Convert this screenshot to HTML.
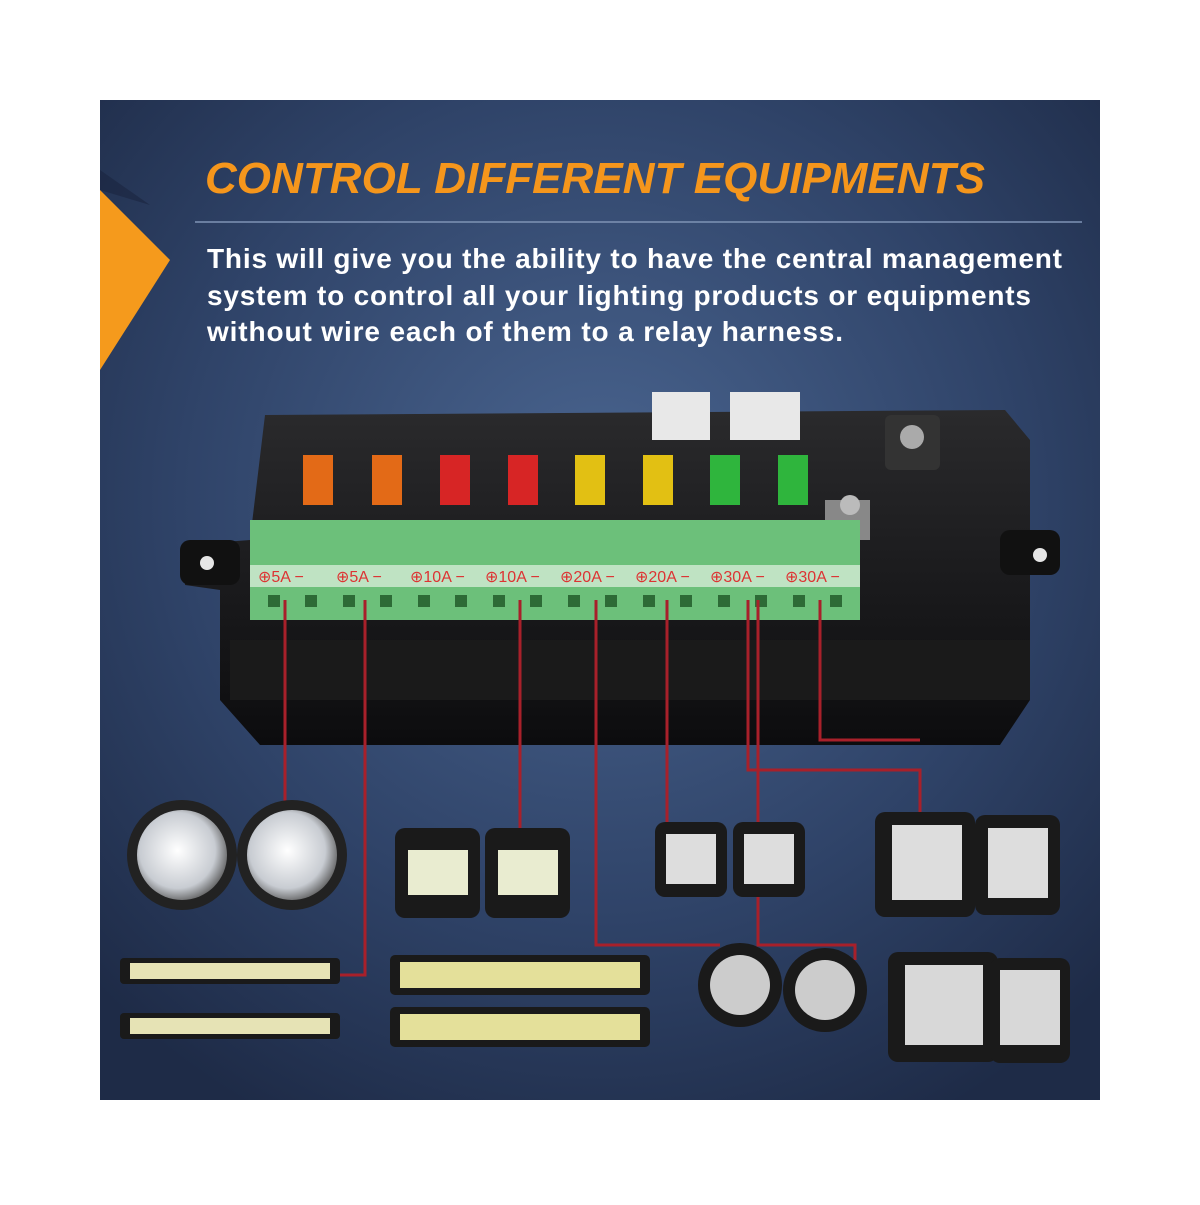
<!DOCTYPE html>
<html><head><meta charset="utf-8"><style>
body{margin:0;background:#fff;width:1200px;height:1200px;overflow:hidden}
</style></head><body>
<svg width="1200" height="1200" viewBox="0 0 1200 1200" xmlns="http://www.w3.org/2000/svg">
<defs>
<radialGradient id="bg" cx="0.5" cy="0.4" r="0.7">
<stop offset="0" stop-color="#4a6590"/><stop offset="0.6" stop-color="#2f4368"/><stop offset="1" stop-color="#1e2b47"/>
</radialGradient>
<linearGradient id="box" x1="0" y1="0" x2="0" y2="1"><stop offset="0" stop-color="#2a2a2c"/><stop offset="1" stop-color="#0c0c0e"/></linearGradient>
<radialGradient id="lamp" cx="0.45" cy="0.45" r="0.6"><stop offset="0" stop-color="#fff"/><stop offset="0.7" stop-color="#c8ccd2"/><stop offset="1" stop-color="#555"/></radialGradient>
</defs>
<rect x="100" y="100" width="1000" height="1000" fill="url(#bg)"/>
<polygon points="100,190 170,260 100,370" fill="#f59a1c"/>
<polygon points="100,170 150,205 100,190" fill="#1a2440" opacity="0.6"/>
<text x="205" y="193" font-family="Liberation Sans, sans-serif" font-weight="bold" font-style="italic" font-size="44" fill="#f5961c" textLength="780" lengthAdjust="spacing">CONTROL DIFFERENT EQUIPMENTS</text>
<line x1="195" y1="222" x2="1082" y2="222" stroke="#7f93b5" stroke-width="1.5"/>
<g font-family="Liberation Sans, sans-serif" font-size="28" font-weight="bold" fill="#fff">
<text x="207" y="268" textLength="855">This will give you the ability to have the central management</text>
<text x="207" y="305" textLength="824">system to control all your lighting products or equipments</text>
<text x="207" y="341" textLength="636">without wire each of them to a relay harness.</text>
</g>
<path d="M265 415 L1005 410 L1030 440 L1030 700 L1000 745 L260 745 L220 700 L220 590 L185 585 L185 545 L250 540 Z" fill="url(#box)"/>
<rect x="180" y="540" width="60" height="45" rx="10" fill="#111"/><circle cx="207" cy="563" r="7" fill="#e6e6e6"/>
<rect x="1000" y="530" width="60" height="45" rx="10" fill="#111"/><circle cx="1040" cy="555" r="7" fill="#e6e6e6"/>
<rect x="230" y="640" width="800" height="60" fill="#1a1a1a"/>
<rect x="652" y="392" width="58" height="48" fill="#e8e8e8"/><rect x="730" y="392" width="70" height="48" fill="#e8e8e8"/>
<rect x="885" y="415" width="55" height="55" rx="6" fill="#333"/><circle cx="912" cy="437" r="12" fill="#aaa"/>
<rect x="825" y="500" width="45" height="40" fill="#888"/><circle cx="850" cy="505" r="10" fill="#bbb"/>
<g>
<rect x="303" y="455" width="30" height="50" fill="#e36a17"/>
<rect x="372" y="455" width="30" height="50" fill="#e36a17"/>
<rect x="440" y="455" width="30" height="50" fill="#d72525"/>
<rect x="508" y="455" width="30" height="50" fill="#d72525"/>
<rect x="575" y="455" width="30" height="50" fill="#e2c013"/>
<rect x="643" y="455" width="30" height="50" fill="#e2c013"/>
<rect x="710" y="455" width="30" height="50" fill="#2fb53d"/>
<rect x="778" y="455" width="30" height="50" fill="#2fb53d"/>
</g>
<rect x="250" y="520" width="610" height="100" fill="#6cc07a"/>
<rect x="250" y="565" width="610" height="22" fill="#bfe3c3"/>
<g font-family="Liberation Sans, sans-serif" font-size="16" fill="#d33">
<text x="258" y="582">⊕5A −</text><text x="336" y="582">⊕5A −</text><text x="410" y="582">⊕10A −</text><text x="485" y="582">⊕10A −</text><text x="560" y="582">⊕20A −</text><text x="635" y="582">⊕20A −</text><text x="710" y="582">⊕30A −</text><text x="785" y="582">⊕30A −</text>
</g>
<g fill="#2d6b36">
<rect x="268" y="595" width="12" height="12"/><rect x="305" y="595" width="12" height="12"/><rect x="343" y="595" width="12" height="12"/><rect x="380" y="595" width="12" height="12"/><rect x="418" y="595" width="12" height="12"/><rect x="455" y="595" width="12" height="12"/><rect x="493" y="595" width="12" height="12"/><rect x="530" y="595" width="12" height="12"/><rect x="568" y="595" width="12" height="12"/><rect x="605" y="595" width="12" height="12"/><rect x="643" y="595" width="12" height="12"/><rect x="680" y="595" width="12" height="12"/><rect x="718" y="595" width="12" height="12"/><rect x="755" y="595" width="12" height="12"/><rect x="793" y="595" width="12" height="12"/><rect x="830" y="595" width="12" height="12"/>
</g>
<g stroke="#a8202a" stroke-width="3" fill="none">
<path d="M285 600 V810"/>
<path d="M365 600 V975 H340"/>
<path d="M520 600 V835"/>
<path d="M596 600 V945 H720"/>
<path d="M667 600 V830"/>
<path d="M748 600 V770 H920 V815"/>
<path d="M758 600 V945 H855 V960"/>
<path d="M820 600 V740 H920"/>
</g>
<g>
<circle cx="182" cy="855" r="55" fill="#222"/><circle cx="182" cy="855" r="45" fill="url(#lamp)"/>
<circle cx="292" cy="855" r="55" fill="#222"/><circle cx="292" cy="855" r="45" fill="url(#lamp)"/>
<rect x="395" y="828" width="85" height="90" rx="10" fill="#1a1a1a"/><rect x="408" y="850" width="60" height="45" fill="#e9ecd0"/>
<rect x="485" y="828" width="85" height="90" rx="10" fill="#1a1a1a"/><rect x="498" y="850" width="60" height="45" fill="#e9ecd0"/>
<rect x="655" y="822" width="72" height="75" rx="10" fill="#1a1a1a"/><rect x="666" y="834" width="50" height="50" fill="#ddd"/>
<rect x="733" y="822" width="72" height="75" rx="10" fill="#1a1a1a"/><rect x="744" y="834" width="50" height="50" fill="#ddd"/>
<rect x="875" y="812" width="100" height="105" rx="10" fill="#1a1a1a"/><rect x="892" y="825" width="70" height="75" fill="#ddd"/>
<rect x="975" y="815" width="85" height="100" rx="10" fill="#1a1a1a"/><rect x="988" y="828" width="60" height="70" fill="#ddd"/>
<rect x="120" y="958" width="220" height="26" rx="4" fill="#1a1a1a"/><rect x="130" y="963" width="200" height="16" fill="#e6e3b5"/>
<rect x="120" y="1013" width="220" height="26" rx="4" fill="#1a1a1a"/><rect x="130" y="1018" width="200" height="16" fill="#e6e3b5"/>
<rect x="390" y="955" width="260" height="40" rx="5" fill="#1a1a1a"/><rect x="400" y="962" width="240" height="26" fill="#e4e09a"/>
<rect x="390" y="1007" width="260" height="40" rx="5" fill="#1a1a1a"/><rect x="400" y="1014" width="240" height="26" fill="#e4e09a"/>
<circle cx="740" cy="985" r="42" fill="#1a1a1a"/><circle cx="740" cy="985" r="30" fill="#ccc"/>
<circle cx="825" cy="990" r="42" fill="#1a1a1a"/><circle cx="825" cy="990" r="30" fill="#ccc"/>
<rect x="888" y="952" width="110" height="110" rx="10" fill="#1a1a1a"/><rect x="905" y="965" width="78" height="80" fill="#d8d8d8"/>
<rect x="990" y="958" width="80" height="105" rx="10" fill="#1a1a1a"/><rect x="1000" y="970" width="60" height="75" fill="#d8d8d8"/>
</g>
</svg>
</body></html>
